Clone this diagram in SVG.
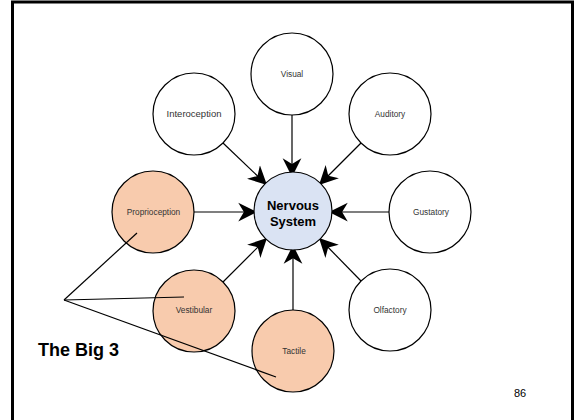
<svg xmlns="http://www.w3.org/2000/svg" width="577" height="420" viewBox="0 0 577 420">
<style>
.sense{fill:#FFFFFF;stroke:#000;stroke-width:1.2}
.big{fill:#F8CBAD;stroke:#000;stroke-width:1.2}
.core{fill:#DAE3F3;stroke:#000;stroke-width:1.2}
.lbl{font-family:"Liberation Sans",Arial,sans-serif;font-size:8.3px;fill:#333333;text-anchor:middle}
.conn line{stroke:#000;stroke-width:1.2;marker-end:url(#ah)}
.pointer line{stroke:#000;stroke-width:1.2}
</style>
<defs>
<marker id="ah" markerUnits="userSpaceOnUse" markerWidth="20" markerHeight="20" refX="15" refY="7.5" orient="auto" viewBox="0 0 16 15">
<path d="M15,7.5 L0,0 L4.5,7.5 L0,15 Z" fill="#000"/>
</marker>
</defs>
<rect x="12.5" y="2" width="560" height="440" fill="none" stroke="#000" stroke-width="3"/>
<g class="conn">
<line x1="292" y1="115" x2="292" y2="177"/>
<line x1="361" y1="143" x2="319" y2="185"/>
<line x1="389" y1="212" x2="329" y2="212"/>
<line x1="361" y1="281" x2="319" y2="238"/>
<line x1="293" y1="310" x2="293" y2="245"/>
<line x1="223" y1="282" x2="267" y2="238"/>
<line x1="194" y1="212" x2="257" y2="212"/>
<line x1="223" y1="143" x2="267" y2="185"/>
</g>
<g id="nervous-system">
<circle class="core" cx="293" cy="211" r="39"/>
<text x="293" y="210" font-family="'Liberation Sans',Arial,sans-serif" font-size="13" font-weight="bold" fill="#000" text-anchor="middle">Nervous</text>
<text x="293" y="226" font-family="'Liberation Sans',Arial,sans-serif" font-size="13" font-weight="bold" fill="#000" text-anchor="middle">System</text>
</g>
<g id="visual"><circle class="sense" cx="292" cy="74" r="41"/><text class="lbl" x="292" y="77">Visual</text></g>
<g id="auditory"><circle class="sense" cx="390" cy="114" r="41"/><text class="lbl" x="390" y="117">Auditory</text></g>
<g id="gustatory"><circle class="sense" cx="430" cy="212" r="41"/><text class="lbl" x="431" y="215">Gustatory</text></g>
<g id="olfactory"><circle class="sense" cx="390" cy="310" r="41"/><text class="lbl" x="390" y="313">Olfactory</text></g>
<g id="interoception"><circle class="sense" cx="194" cy="114" r="41"/><text class="lbl" x="194" y="117" style="font-size:9.5px">Interoception</text></g>
<g id="proprioception"><circle class="big" cx="153" cy="212" r="41"/><text class="lbl" x="153.5" y="215">Proprioception</text></g>
<g id="vestibular"><circle class="big" cx="194" cy="311" r="41"/><text class="lbl" x="194" y="313">Vestibular</text></g>
<g id="tactile"><circle class="big" cx="293" cy="351" r="41"/><text class="lbl" x="294" y="354">Tactile</text></g>
<g class="pointer">
<line x1="64" y1="300" x2="137" y2="233"/>
<line x1="64" y1="300" x2="184" y2="297"/>
<line x1="64" y1="300" x2="276" y2="377"/>
</g>
<text x="38" y="356" font-family="'Liberation Sans',Arial,sans-serif" font-size="18" font-weight="bold" fill="#000">The Big 3</text>
<text x="514" y="397" font-family="'Liberation Sans',Arial,sans-serif" font-size="11" fill="#000">86</text>
</svg>
